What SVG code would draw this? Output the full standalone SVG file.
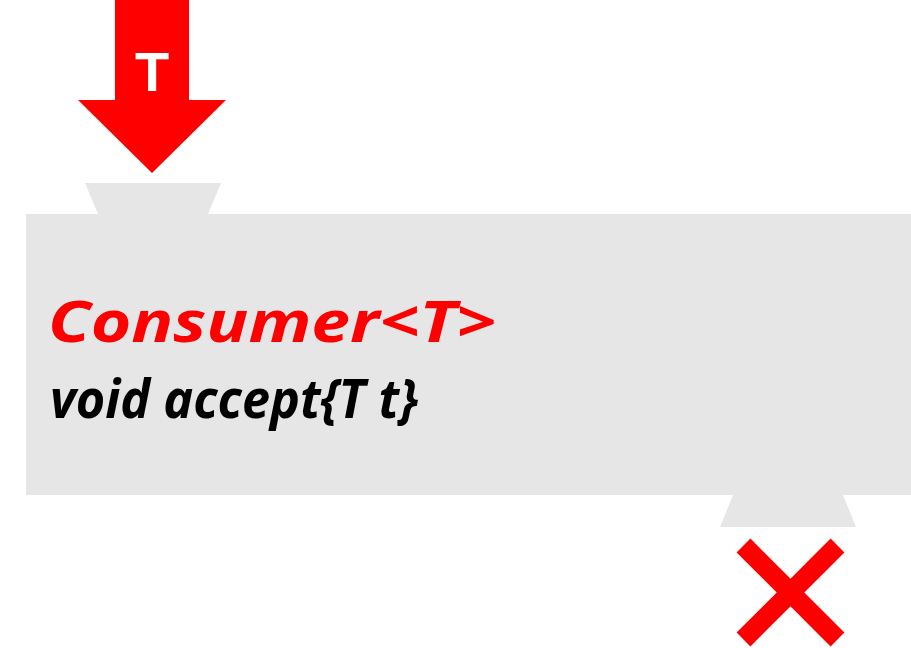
<svg xmlns="http://www.w3.org/2000/svg" width="911" height="648" viewBox="0 0 911 648">
<style>
.gray{fill:#e6e6e6}
.red{fill:#ff0000}
.t{font-family:"Noto Sans","Open Sans","Liberation Sans",sans-serif;font-weight:bold;font-style:italic}
</style>
<rect width="911" height="648" fill="#ffffff"/>
<g id="consumer">
<polygon class="gray" points="85,183 221,183 208,214 98,214"/>
<rect class="gray" x="26" y="214" width="885" height="281"/>
<polygon class="gray" points="733,495 843,495 856,527 720,527"/>
<text class="t" x="48" y="342" font-size="58" fill="#ff0000" textLength="448" lengthAdjust="spacingAndGlyphs">Consumer&lt;T&gt;</text>
<text class="t" x="50" y="418" font-size="54" fill="#000000" textLength="368" lengthAdjust="spacingAndGlyphs">void accept{T t}</text>
</g>
<g id="input">
<polygon class="red" points="115,0 189,0 189,100 226,100 152,173 78,100 115,100"/>
<text x="152" y="91" font-family="Liberation Sans,Arial,sans-serif" font-weight="bold" font-size="56" fill="#ffffff" text-anchor="middle">T</text>
</g>
<g id="output">
<line x1="743.5" y1="545.5" x2="837.5" y2="639.5" stroke="#ff0000" stroke-width="19.5"/>
<line x1="837.5" y1="545.5" x2="743.5" y2="639.5" stroke="#ff0000" stroke-width="19.5"/>
</g>
<g id="connectors"></g>
</svg>
